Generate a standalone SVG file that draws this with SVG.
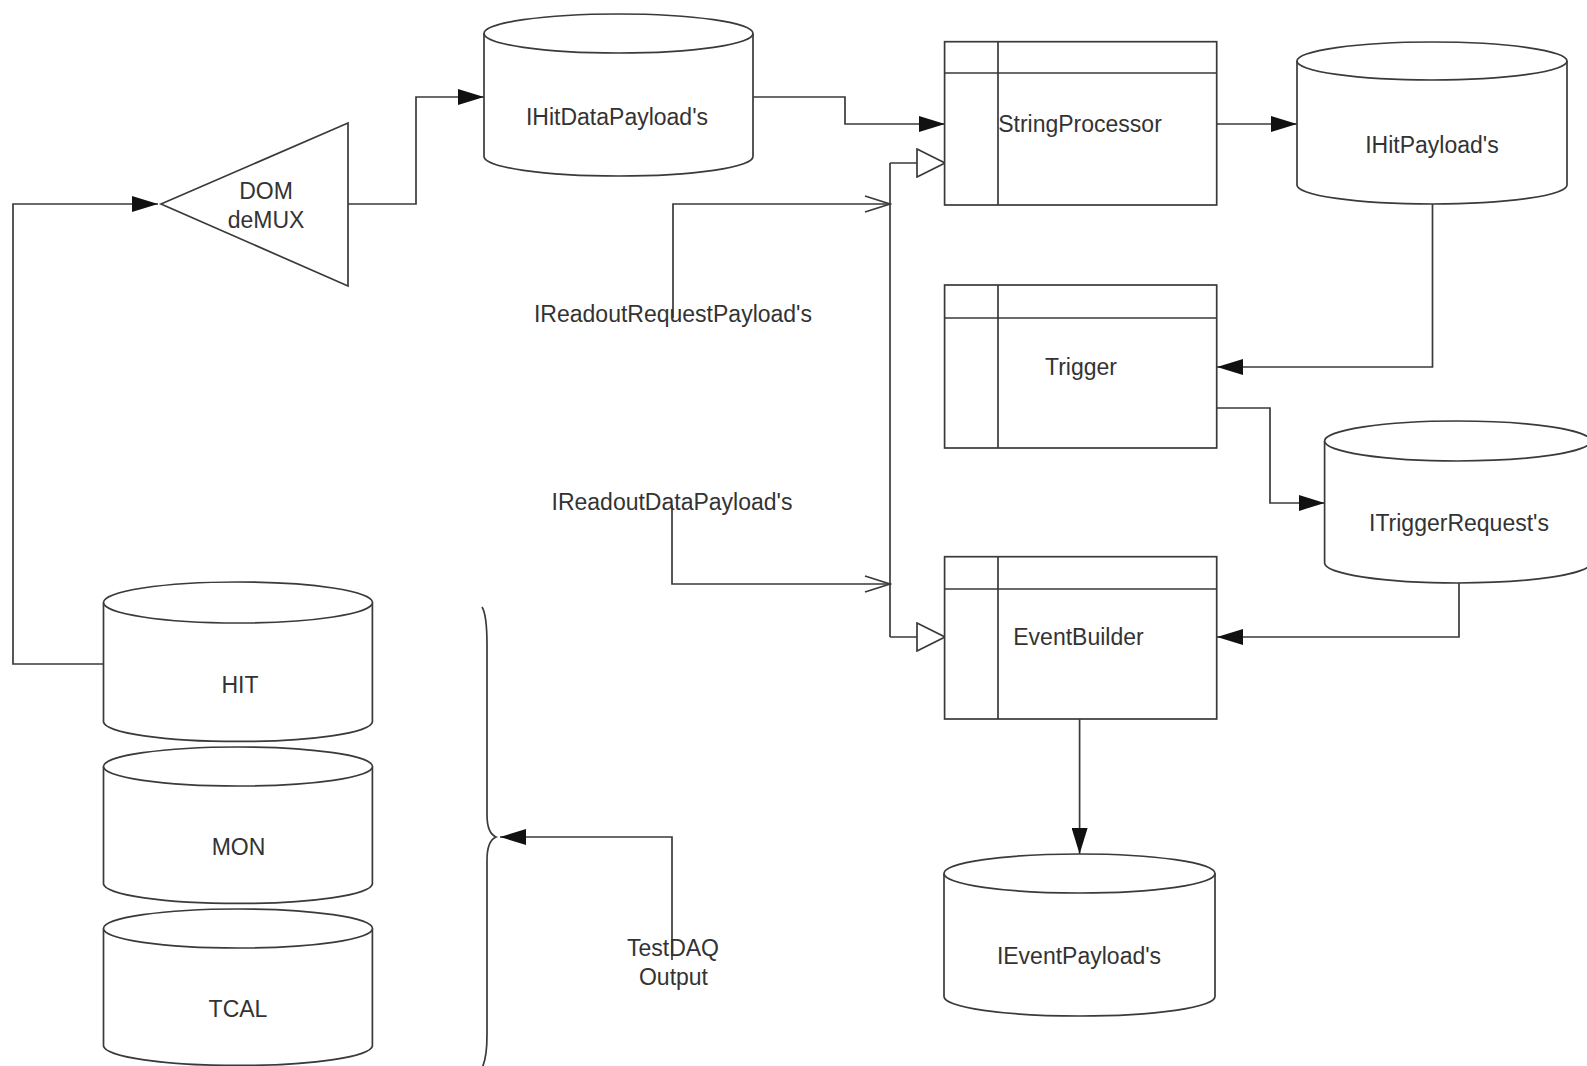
<svg xmlns="http://www.w3.org/2000/svg" width="1587" height="1066" viewBox="0 0 1587 1066">
<style>
.s{fill:#fff;stroke:#3a3a3a;stroke-width:1.7}
.c{fill:none;stroke:#3a3a3a;stroke-width:1.7}
.t{font-family:"Liberation Sans",Arial,sans-serif;font-size:23px;fill:#333;text-anchor:middle}
</style>
<defs>
<marker id="fa" markerUnits="userSpaceOnUse" viewBox="0 0 26 16" markerWidth="26" markerHeight="16" refX="26" refY="8" orient="auto"><path d="M0,0 L26,8 L0,16 z" fill="#111"/></marker>
<marker id="ha" markerUnits="userSpaceOnUse" viewBox="-1 -1 30 30" markerWidth="30" markerHeight="30" refX="28" refY="14" orient="auto"><path d="M0,0 L28,14 L0,28 z" fill="#fff" stroke="#3a3a3a" stroke-width="1.7"/></marker>
<marker id="oa" markerUnits="userSpaceOnUse" viewBox="-1 -1 28 18" markerWidth="28" markerHeight="18" refX="25" refY="8" orient="auto"><path d="M0,0 L25,8 L0,16" fill="none" stroke="#3a3a3a" stroke-width="1.7"/></marker>
</defs>
<rect width="1587" height="1066" fill="#fff"/>
<g id="connectors">
<path class="c" d="M103.5,664 L13,664 L13,204 L158,204" marker-end="url(#fa)"/>
<path class="c" d="M348,204 L416,204 L416,97 L484,97" marker-end="url(#fa)"/>
<path class="c" d="M753,97 L845,97 L845,124 L945,124" marker-end="url(#fa)"/>
<path class="c" d="M1217,124 L1297,124" marker-end="url(#fa)"/>
<path class="c" d="M1432.5,204 L1432.5,367 L1217,367" marker-end="url(#fa)"/>
<path class="c" d="M1217,408 L1270,408 L1270,503 L1324.6,503" marker-end="url(#fa)"/>
<path class="c" d="M1459,583 L1459,637 L1217,637" marker-end="url(#fa)"/>
<path class="c" d="M1079.6,719 L1079.6,854" marker-end="url(#fa)"/>
<path class="c" d="M890,163 L890,637"/>
<path class="c" d="M890,163 L945,163" marker-end="url(#ha)"/>
<path class="c" d="M890,637 L945,637" marker-end="url(#ha)"/>
<path class="c" d="M673,318 L673,204 L890,204" marker-end="url(#oa)"/>
<path class="c" d="M672,505 L672,584 L890,584" marker-end="url(#oa)"/>
<path class="c" d="M672,960 L672,837 L500,837" marker-end="url(#fa)"/>
<path class="c" d="M482,607 Q487,615 487,645 L487,815 Q487,833 496,837 Q487,841 487,860 L487,1035 Q487,1058 482,1068"/>
</g>
<g id="demux">
<polygon class="s" points="161,204 348,123 348,286"/>
<text class="t" x="266" y="199">DOM</text>
<text class="t" x="266" y="228">deMUX</text>
</g>
<g id="hitdata">
<path class="s" d="M484,33.5 L484,156.5 A134.5,19.5 0 0 0 753,156.5 L753,33.5"/>
<ellipse class="s" cx="618.5" cy="33.5" rx="134.5" ry="19.5"/>
<text class="t" x="617" y="125">IHitDataPayload's</text>
</g>
<g id="stringprocessor">
<rect class="s" x="944.6" y="41.7" width="272.1" height="163.3"/>
<path class="c" d="M944.6,73 L1216.7,73 M998,41.7 L998,205"/>
<text class="t" x="1080" y="132">StringProcessor</text>
</g>
<g id="hitpayload">
<path class="s" d="M1297,61 L1297,185 A135,19 0 0 0 1567,185 L1567,61"/>
<ellipse class="s" cx="1432" cy="61" rx="135" ry="19"/>
<text class="t" x="1432" y="153">IHitPayload's</text>
</g>
<g id="trigger">
<rect class="s" x="944.6" y="285" width="272.1" height="163"/>
<path class="c" d="M944.6,318 L1216.7,318 M998,285 L998,448"/>
<text class="t" x="1081" y="375">Trigger</text>
</g>
<g id="triggerrequest">
<path class="s" d="M1324.6,441 L1324.6,563 A133,20 0 0 0 1590.6,563 L1590.6,441"/>
<ellipse class="s" cx="1457.6" cy="441" rx="133" ry="20"/>
<text class="t" x="1459" y="531">ITriggerRequest's</text>
</g>
<g id="eventbuilder">
<rect class="s" x="944.6" y="556.7" width="272.1" height="162.3"/>
<path class="c" d="M944.6,589 L1216.7,589 M998,556.7 L998,719"/>
<text class="t" x="1078.5" y="645">EventBuilder</text>
</g>
<g id="eventpayload">
<path class="s" d="M944,873.5 L944,996.5 A135.5,19.5 0 0 0 1215,996.5 L1215,873.5"/>
<ellipse class="s" cx="1079.5" cy="873.5" rx="135.5" ry="19.5"/>
<text class="t" x="1079" y="964">IEventPayload's</text>
</g>
<g id="hit">
<path class="s" d="M103.5,602.5 L103.5,722 A134.5,20 0 0 0 372.4,722 L372.4,602.5"/>
<ellipse class="s" cx="238" cy="602.5" rx="134.5" ry="20.5"/>
<text class="t" x="240" y="693">HIT</text>
</g>
<g id="mon">
<path class="s" d="M103.5,766.5 L103.5,884 A134.5,20 0 0 0 372.4,884 L372.4,766.5"/>
<ellipse class="s" cx="238" cy="766.5" rx="134.5" ry="19.5"/>
<text class="t" x="238.5" y="855">MON</text>
</g>
<g id="tcal">
<path class="s" d="M103.5,928.5 L103.5,1046 A134.5,20 0 0 0 372.4,1046 L372.4,928.5"/>
<ellipse class="s" cx="238" cy="928.5" rx="134.5" ry="19.5"/>
<text class="t" x="238" y="1017">TCAL</text>
</g>
<g id="labels">
<text class="t" x="673" y="322">IReadoutRequestPayload's</text>
<text class="t" x="672" y="510">IReadoutDataPayload's</text>
<text class="t" x="673" y="956">TestDAQ</text>
<text class="t" x="673.5" y="985">Output</text>
</g>
</svg>
